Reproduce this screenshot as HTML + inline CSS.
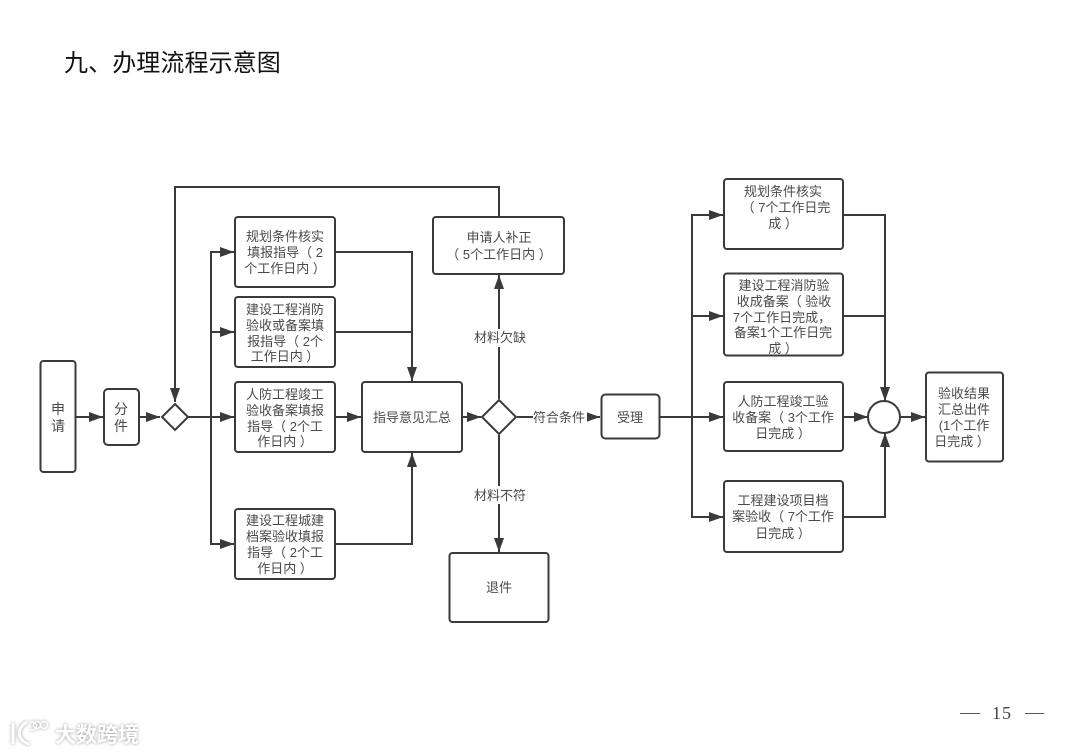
<!DOCTYPE html>
<html lang="zh">
<head>
<meta charset="utf-8">
<title>办理流程示意图</title>
<style>
html,body{margin:0;padding:0;background:#fff;}
body{width:1067px;height:753px;overflow:hidden;}
svg{display:block;}
text{font-family:"Liberation Sans","Noto Sans CJK SC",sans-serif;}
.b{fill:#fff;stroke:#3a3a3a;stroke-width:2;}
.l{fill:none;stroke:#3a3a3a;stroke-width:2;}
.t{font-size:13px;fill:#4a4a4a;text-anchor:middle;}
</style>
</head>
<body>
<svg width="1067" height="753" viewBox="0 0 1067 753" xmlns="http://www.w3.org/2000/svg">
<defs>
<marker id="a" markerUnits="userSpaceOnUse" markerWidth="15" markerHeight="12" refX="14" refY="6" orient="auto">
<path d="M0,1 L14,6 L0,11 Z" fill="#3a3a3a"/>
</marker>
</defs>
<rect width="1067" height="753" fill="#fff"/>
<text x="64" y="71" font-size="24" letter-spacing="0.1" fill="#111">九、办理流程示意图</text>

<!-- connectors -->
<path class="l" d="M75,417 H103" marker-end="url(#a)"/>
<path class="l" d="M139,417 H160" marker-end="url(#a)"/>
<path class="l" d="M499,216 V187 H175 V402" marker-end="url(#a)"/>
<path class="l" d="M188,417 H234" marker-end="url(#a)"/>
<path class="l" d="M211,417 V252 H234" marker-end="url(#a)"/>
<path class="l" d="M211,332 H234" marker-end="url(#a)"/>
<path class="l" d="M211,417 V544 H234" marker-end="url(#a)"/>
<path class="l" d="M335,252 H412 V381" marker-end="url(#a)"/>
<path class="l" d="M335,332 H412"/>
<path class="l" d="M335,417 H361" marker-end="url(#a)"/>
<path class="l" d="M335,544 H412 V453" marker-end="url(#a)"/>
<path class="l" d="M462,417 H481" marker-end="url(#a)"/>
<path class="l" d="M499,399 V275" marker-end="url(#a)"/>
<path class="l" d="M499,435 V552" marker-end="url(#a)"/>
<path class="l" d="M517,417 H600" marker-end="url(#a)"/>
<path class="l" d="M660,417 H723" marker-end="url(#a)"/>
<path class="l" d="M692,417 V215 H723" marker-end="url(#a)"/>
<path class="l" d="M692,316 H723" marker-end="url(#a)"/>
<path class="l" d="M692,417 V517 H723" marker-end="url(#a)"/>
<path class="l" d="M843,215 H885 V401" marker-end="url(#a)"/>
<path class="l" d="M843,316 H885"/>
<path class="l" d="M843,417 H868" marker-end="url(#a)"/>
<path class="l" d="M843,517 H885 V433" marker-end="url(#a)"/>
<path class="l" d="M900,417 H925" marker-end="url(#a)"/>

<!-- connector labels -->
<rect x="473" y="329" width="54" height="18" fill="#fff"/>
<text class="t" x="500" y="342">材料欠缺</text>
<rect x="473" y="486" width="54" height="18" fill="#fff"/>
<text class="t" x="500" y="500">材料不符</text>
<rect x="533" y="409" width="54" height="18" fill="#fff"/>
<text class="t" x="559" y="422">符合条件</text>

<!-- nodes -->
<rect class="b" x="40.500" y="361" width="35" height="111" rx="3"/>
<text class="t" x="58" y="414" style="font-size:14px">申</text>
<text class="t" x="58" y="431" style="font-size:14px">请</text>

<rect class="b" x="104" y="389" width="35" height="56" rx="4"/>
<text class="t" x="121" y="414" style="font-size:14px">分</text>
<text class="t" x="121" y="431" style="font-size:14px">件</text>

<path class="b" d="M175,404 L188,417 L175,430 L162,417 Z"/>

<rect class="b" x="235" y="217" width="100" height="70" rx="3"/>
<text class="t" x="285" y="241">规划条件核实</text>
<text class="t" x="285" y="257">填报指导（ 2</text>
<text class="t" x="285" y="273">个工作日内 ）</text>

<rect class="b" x="235" y="297" width="100" height="70" rx="3"/>
<text class="t" x="285" y="314">建设工程消防</text>
<text class="t" x="285" y="330">验收或备案填</text>
<text class="t" x="285" y="346">报指导（ 2个</text>
<text class="t" x="285" y="361">工作日内 ）</text>

<rect class="b" x="235" y="382" width="100" height="70" rx="3"/>
<text class="t" x="285" y="399">人防工程竣工</text>
<text class="t" x="285" y="415">验收备案填报</text>
<text class="t" x="285" y="431">指导（ 2个工</text>
<text class="t" x="285" y="446">作日内 ）</text>

<rect class="b" x="235" y="509" width="100" height="70" rx="3"/>
<text class="t" x="285" y="525">建设工程城建</text>
<text class="t" x="285" y="541">档案验收填报</text>
<text class="t" x="285" y="557">指导（ 2个工</text>
<text class="t" x="285" y="573">作日内 ）</text>

<rect class="b" x="362" y="382" width="100" height="70" rx="3"/>
<text class="t" x="412" y="422">指导意见汇总</text>

<path class="b" d="M499,400 L516,417 L499,434 L482,417 Z"/>

<rect class="b" x="433" y="217" width="131" height="57" rx="3"/>
<text class="t" x="499" y="242">申请人补正</text>
<text class="t" x="499" y="259">（ 5个工作日内 ）</text>

<rect class="b" x="449.500" y="553" width="99" height="69" rx="3"/>
<text class="t" x="499" y="592">退件</text>

<rect class="b" x="601.500" y="394.500" width="58" height="44" rx="4"/>
<text class="t" x="630" y="422">受理</text>

<rect class="b" x="724" y="179" width="119" height="70" rx="3"/>
<text class="t" x="783" y="196">规划条件核实</text>
<text class="t" x="786" y="212">（ 7个工作日完</text>
<text class="t" x="783" y="228">成 ）</text>

<rect class="b" x="724" y="273.500" width="119" height="82" rx="3"/>
<text class="t" x="784" y="290">建设工程消防验</text>
<text class="t" x="784" y="306">收成备案（ 验收</text>
<text class="t" x="782" y="322">7个工作日完成，</text>
<text class="t" x="783" y="337">备案1个工作日完</text>
<text class="t" x="783" y="353">成 ）</text>

<rect class="b" x="724" y="382" width="119" height="69" rx="3"/>
<text class="t" x="783" y="406">人防工程竣工验</text>
<text class="t" x="783" y="422">收备案（ 3个工作</text>
<text class="t" x="783" y="438">日完成 ）</text>

<rect class="b" x="724" y="481" width="119" height="71" rx="3"/>
<text class="t" x="783" y="505">工程建设项目档</text>
<text class="t" x="783" y="521">案验收（ 7个工作</text>
<text class="t" x="783" y="538">日完成 ）</text>

<circle class="b" cx="884" cy="417" r="16"/>

<rect class="b" x="926" y="372.500" width="77" height="89" rx="3"/>
<text class="t" x="964" y="398">验收结果</text>
<text class="t" x="964" y="414">汇总出件</text>
<text class="t" x="964" y="430">(1个工作</text>
<text class="t" x="962" y="446">日完成 ）</text>

<!-- page number -->
<path d="M960,713.500 H980 M1025,713.500 H1044" stroke="#555" stroke-width="1" fill="none"/>
<text x="1002" y="719" font-size="18" letter-spacing="1" fill="#444" text-anchor="middle" style="font-family:'Liberation Serif',serif">15</text>

<!-- watermark -->
<g style="filter:drop-shadow(0 0 1.500px #9a9a9a)">
<path d="M13,723 L13,744 M27,722 C17,727 16,740 29,744" fill="none" stroke="#fff" stroke-width="3"/>
<path d="M30,723 A4,4 0 1 1 30,729" fill="none" stroke="#fff" stroke-width="1.500"/>
<circle cx="37" cy="725" r="3.500" fill="none" stroke="#fff" stroke-width="1.500"/>
<circle cx="44" cy="725" r="3.500" fill="none" stroke="#fff" stroke-width="1.500"/>
<text x="55" y="742" font-size="21" font-weight="bold" fill="#fff">大数跨境</text>
</g>
</svg>
</body>
</html>
